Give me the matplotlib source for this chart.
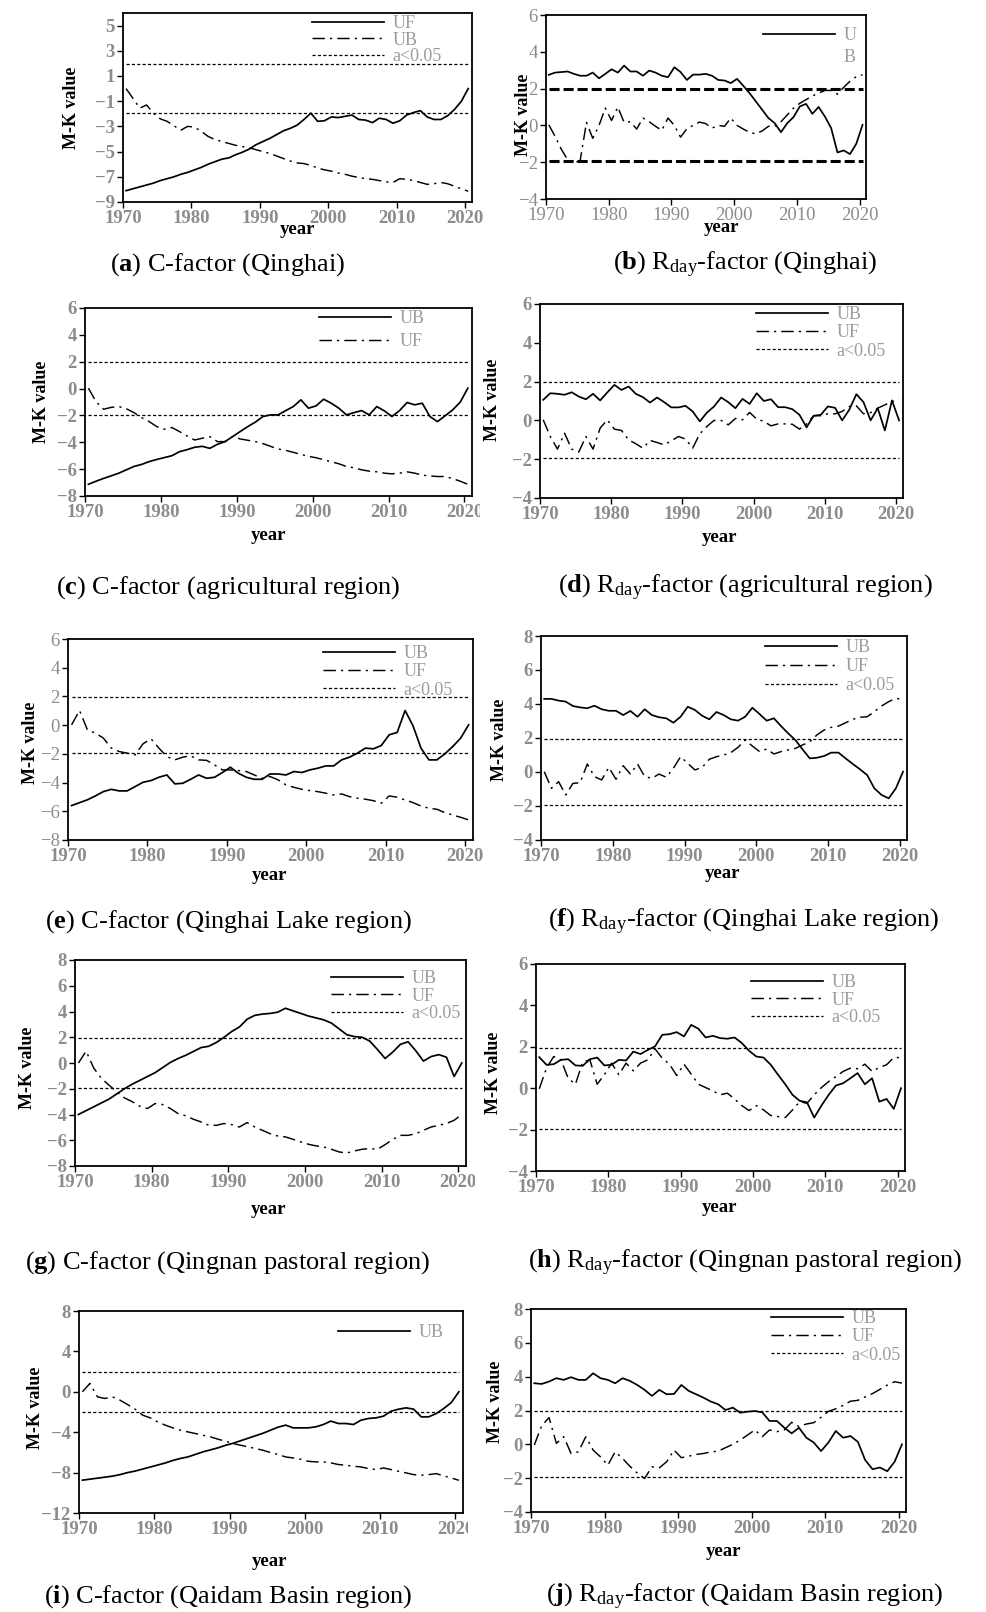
import numpy as np
import matplotlib
matplotlib.use('Agg')
import matplotlib.pyplot as plt
from matplotlib.lines import Line2D
from matplotlib.transforms import Bbox, TransformedBbox

plt.rcParams['font.family'] = 'Liberation Serif'
plt.rcParams['mathtext.fontset'] = 'custom'
plt.rcParams['mathtext.rm'] = 'Liberation Serif'
plt.rcParams['mathtext.bf'] = 'Liberation Serif:bold'
plt.rcParams['mathtext.it'] = 'Liberation Serif:italic'

W, H = 987, 1612
years = np.arange(1970, 2021)

# (a) C-factor, Qinghai
a_solid = [-8.1, -7.95, -7.8, -7.65, -7.5, -7.3, -7.15, -7.0, -6.8, -6.65,
           -6.45, -6.25, -6.0, -5.8, -5.6, -5.5, -5.25, -5.05, -4.8, -4.45,
           -4.2, -3.95, -3.65, -3.35, -3.15, -2.9, -2.45, -1.95, -2.6, -2.55,
           -2.25, -2.3, -2.2, -2.1, -2.45, -2.5, -2.7, -2.35, -2.45, -2.75,
           -2.55, -2.1, -1.9, -1.75, -2.25, -2.45, -2.45, -2.15, -1.65, -1.0, 0.0]
a_dashdot = [0.0, -0.77, -1.55, -1.3, -1.95, -2.4, -2.6, -2.95, -3.3, -3.0,
             -3.05, -3.4, -3.8, -4.05, -4.2, -4.35, -4.5, -4.6, -4.7, -4.85,
             -5.0, -5.15, -5.35, -5.55, -5.75, -5.9, -5.95, -6.1, -6.3, -6.45,
             -6.55, -6.7, -6.8, -6.95, -7.05, -7.15, -7.2, -7.3, -7.4, -7.45,
             -7.15, -7.2, -7.3, -7.45, -7.6, -7.55, -7.45, -7.55, -7.75, -7.95, -8.15]

# (b) Rday-factor, Qinghai
b_solid = [2.75, 2.87, 2.9, 2.93, 2.8, 2.7, 2.7, 2.87, 2.56, 2.8,
           3.05, 2.87, 3.25, 2.93, 2.93, 2.7, 2.98, 2.87, 2.7, 2.62,
           3.16, 2.9, 2.47, 2.76, 2.76, 2.8, 2.7, 2.47, 2.44, 2.3,
           2.53, 2.15, 1.75, 1.3, 0.85, 0.4, 0.12, -0.37, 0.12, 0.45,
           1.03, 1.17, 0.63, 1.0, 0.48, -0.15, -1.47, -1.36, -1.56, -1.0, 0.03]
b_dashdot = [0.03, -0.6, -1.3, -1.87, -2.05, -1.9, 0.16, -0.7, 0.0, 0.94,
             0.27, 1.0, 0.16, 0.2, -0.2, 0.4, 0.2, -0.05, -0.27, 0.4,
             0.0, -0.64, -0.18, 0.0, 0.18, 0.1, -0.15, 0.0, -0.05, 0.4,
             0.0, -0.2, -0.38, -0.46, -0.3, -0.05, -0.05, 0.2, 0.57, 0.94,
             1.2, 1.4, 1.6, 1.75, 1.9, 1.9, 1.7, 2.07, 2.4, 2.65, 2.75]

# (c) C-factor, agricultural region
c_solid = [-7.13, -6.9, -6.69, -6.5, -6.3, -6.05, -5.8, -5.65, -5.44, -5.28,
           -5.14, -5.0, -4.7, -4.55, -4.37, -4.3, -4.45, -4.15, -3.95, -3.58,
           -3.2, -2.83, -2.5, -2.08, -1.96, -1.96, -1.64, -1.34, -0.84, -1.46,
           -1.29, -0.79, -1.09, -1.46, -1.96, -1.79, -1.64, -1.96, -1.34, -1.66,
           -2.08, -1.64, -1.04, -1.21, -1.09, -2.08, -2.46, -2.03, -1.59, -1.01, 0.03]
c_dashdot = [0.03, -0.97, -1.54, -1.4, -1.34, -1.5, -1.79, -2.16, -2.46, -2.83,
             -3.03, -2.9, -3.2, -3.53, -3.83, -3.7, -3.58, -3.95, -3.95, -3.58,
             -3.75, -3.85, -3.95, -4.1, -4.3, -4.5, -4.6, -4.75, -4.9, -5.05,
             -5.15, -5.3, -5.45, -5.6, -5.8, -5.9, -6.05, -6.15, -6.2, -6.3,
             -6.35, -6.3, -6.2, -6.3, -6.45, -6.5, -6.55, -6.55, -6.7, -6.9, -7.13]

# (d) Rday-factor, agricultural region
d_solid = [1.06, 1.4, 1.37, 1.32, 1.45, 1.23, 1.09, 1.37, 1.03, 1.44,
           1.83, 1.57, 1.75, 1.37, 1.2, 0.92, 1.18, 0.94, 0.67, 0.67,
           0.75, 0.46, -0.05, 0.4, 0.72, 1.18, 0.94, 0.63, 1.11, 0.85,
           1.4, 1.0, 1.09, 0.68, 0.68, 0.58, 0.29, -0.36, 0.24, 0.29,
           0.72, 0.65, 0.0, 0.55, 1.35, 0.94, 0.0, 0.63, -0.52, 1.03, 0.0]
d_dashdot = [0.03, -0.83, -1.48, -0.66, -1.48, -1.63, -0.83, -1.48, -0.4, 0.03,
             -0.45, -0.52, -1.0, -1.2, -1.43, -1.03, -1.14, -1.26, -1.05, -0.83,
             -0.96, -1.43, -0.69, -0.31, 0.0, 0.0, -0.23, 0.1, 0.03, 0.41,
             0.07, -0.05, -0.28, -0.18, -0.18, -0.2, -0.45, -0.18, 0.24, 0.24,
             0.34, 0.34, 0.46, 0.72, 0.75, 0.34, 0.4, 0.63, 0.8, 0.97, 1.06]

# (e) C-factor, Qinghai Lake region
e_solid = [-5.6, -5.4, -5.2, -4.93, -4.63, -4.47, -4.58, -4.58, -4.28, -3.98,
           -3.86, -3.63, -3.47, -4.09, -4.05, -3.77, -3.47, -3.7, -3.63, -3.3,
           -2.93, -3.35, -3.63, -3.77, -3.77, -3.4, -3.4, -3.47, -3.23, -3.3,
           -3.12, -3.0, -2.84, -2.84, -2.42, -2.23, -1.95, -1.6, -1.65, -1.42,
           -0.67, -0.51, 1.02, -0.05, -1.6, -2.42, -2.42, -2.0, -1.49, -0.9, 0.02]
e_dashdot = [0.02, 1.02, -0.33, -0.56, -0.9, -1.6, -1.84, -1.95, -2.07, -1.3,
             -0.95, -1.6, -2.19, -2.42, -2.23, -2.14, -2.42, -2.45, -2.77, -3.12,
             -3.12, -3.16, -3.23, -3.47, -3.7, -3.58, -3.81, -4.16, -4.33, -4.47,
             -4.56, -4.63, -4.74, -4.86, -4.79, -4.98, -5.09, -5.16, -5.26, -5.44,
             -4.93, -5.02, -5.21, -5.4, -5.63, -5.79, -5.86, -6.09, -6.26, -6.42, -6.6]

# (f) Rday-factor, Qinghai Lake region
f_solid = [4.3, 4.3, 4.2, 4.14, 3.88, 3.8, 3.75, 3.9, 3.69, 3.6,
           3.6, 3.35, 3.59, 3.25, 3.69, 3.35, 3.22, 3.16, 2.9, 3.25,
           3.84, 3.65, 3.31, 3.1, 3.53, 3.35, 3.1, 3.02, 3.25, 3.78,
           3.41, 3.02, 3.16, 2.7, 2.27, 1.88, 1.33, 0.8, 0.84, 0.94,
           1.14, 1.14, 0.8, 0.47, 0.16, -0.18, -0.96, -1.35, -1.55, -0.96, 0.02]
f_dashdot = [0.02, -0.96, -0.57, -1.35, -0.67, -0.63, 0.47, -0.27, -0.47, 0.27,
             -0.43, 0.37, -0.12, 0.47, -0.27, -0.37, -0.12, -0.31, 0.22, 0.9,
             0.51, 0.12, 0.27, 0.75, 0.9, 1.0, 1.14, 1.45, 1.88, 1.53,
             1.2, 1.35, 1.06, 1.2, 1.3, 1.39, 1.59, 1.78, 2.18, 2.47,
             2.63, 2.7, 2.9, 3.1, 3.22, 3.25, 3.55, 3.88, 4.14, 4.33, 4.27]

# (g) C-factor, Qingnan pastoral region
g_solid = [-4.0, -3.7, -3.4, -3.1, -2.8, -2.4, -2.0, -1.65, -1.35, -1.05,
           -0.75, -0.35, 0.05, 0.35, 0.6, 0.9, 1.2, 1.3, 1.6, 2.0,
           2.45, 2.8, 3.4, 3.7, 3.8, 3.85, 3.95, 4.25, 4.05, 3.85,
           3.65, 3.5, 3.35, 3.1, 2.65, 2.2, 2.05, 2.0, 1.7, 1.05,
           0.35, 0.85, 1.45, 1.65, 0.95, 0.15, 0.5, 0.65, 0.45, -1.05, 0.0]
g_dashdot = [0.0, 0.92, -0.4, -1.2, -1.73, -2.24, -2.71, -3.0, -3.36, -3.54,
             -3.15, -3.23, -3.54, -3.93, -4.1, -4.37, -4.58, -4.84, -4.84, -4.7,
             -4.79, -4.97, -4.63, -4.97, -5.23, -5.49, -5.67, -5.74, -5.93, -6.13,
             -6.31, -6.44, -6.52, -6.7, -6.91, -6.99, -6.83, -6.7, -6.65, -6.7,
             -6.34, -5.93, -5.62, -5.62, -5.49, -5.23, -4.97, -4.84, -4.7, -4.45, -4.0]

# (h) Rday-factor, Qingnan pastoral region
h_solid = [1.5, 1.13, 1.16, 1.37, 1.4, 1.1, 1.08, 1.4, 1.48, 1.1,
           1.13, 1.37, 1.34, 1.77, 1.65, 1.85, 2.02, 2.58, 2.61, 2.71,
           2.5, 3.06, 2.87, 2.45, 2.53, 2.42, 2.39, 2.45, 2.18, 1.81,
           1.53, 1.48, 1.13, 0.65, 0.19, -0.32, -0.61, -0.68, -1.42, -0.84,
           -0.32, 0.13, 0.24, 0.48, 0.73, 0.19, 0.48, -0.65, -0.52, -1.0, 0.0]
h_dashdot = [-0.03, 0.97, 1.53, 1.37, 0.48, 0.19, 1.26, 1.37, 0.19, 0.65,
             1.21, 0.65, 1.21, 0.84, 1.21, 1.37, 1.9, 1.45, 1.16, 0.61,
             1.16, 0.68, 0.19, 0.03, -0.13, -0.32, -0.24, -0.52, -0.84, -1.08,
             -0.84, -1.05, -1.32, -1.37, -1.42, -1.05, -0.65, -0.73, -0.32, 0.03,
             0.32, 0.56, 0.81, 0.97, 0.94, 1.16, 0.81, 1.0, 1.13, 1.48, 1.48]

# (i) C-factor, Qaidam Basin region
i_solid = [-8.75, -8.65, -8.55, -8.45, -8.35, -8.2, -8.0, -7.85, -7.65, -7.45,
           -7.25, -7.05, -6.8, -6.6, -6.45, -6.2, -5.95, -5.75, -5.55, -5.3,
           -5.1, -4.85, -4.6, -4.35, -4.1, -3.8, -3.5, -3.3, -3.57, -3.57,
           -3.57, -3.47, -3.24, -2.9, -3.14, -3.14, -3.24, -2.81, -2.64, -2.58,
           -2.41, -1.92, -1.72, -1.59, -1.72, -2.48, -2.48, -2.15, -1.65, -1.06, 0.0]
i_dashdot = [0.0, 0.83, -0.5, -0.66, -0.5, -0.83, -1.26, -1.72, -2.31, -2.58,
             -2.98, -3.3, -3.57, -3.8, -3.97, -4.13, -4.3, -4.46, -4.69, -4.89,
             -5.12, -5.29, -5.45, -5.62, -5.79, -6.02, -6.21, -6.45, -6.55, -6.68,
             -6.88, -6.94, -6.94, -7.04, -7.2, -7.27, -7.37, -7.44, -7.6, -7.7,
             -7.54, -7.7, -7.87, -8.03, -8.2, -8.26, -8.2, -8.1, -8.33, -8.53, -8.76]

# (j) Rday-factor, Qaidam Basin region
j_solid = [3.61, 3.57, 3.71, 3.91, 3.81, 3.97, 3.81, 3.81, 4.2, 3.91,
           3.81, 3.61, 3.91, 3.75, 3.51, 3.22, 2.86, 3.22, 2.96, 2.98,
           3.51, 3.16, 2.96, 2.76, 2.53, 2.37, 2.03, 2.17, 1.87, 1.93,
           1.97, 1.89, 1.38, 1.38, 0.98, 0.65, 0.98, 0.39, 0.11, -0.4,
           0.11, 0.79, 0.39, 0.49, 0.15, -0.93, -1.47, -1.37, -1.59, -1.03, 0.0]
j_dashdot = [-0.04, 1.1, 1.58, 0.06, 0.45, -0.54, -0.44, 0.45, -0.34, -0.74,
             -1.23, -0.44, -0.83, -1.3, -1.7, -2.02, -1.33, -1.39, -1.03, -0.34,
             -0.79, -0.7, -0.6, -0.54, -0.45, -0.4, -0.2, 0.0, 0.25, 0.55,
             0.85, 0.45, 0.85, 0.75, 0.85, 1.3, 1.05, 1.2, 1.28, 1.6,
             1.95, 2.1, 2.3, 2.55, 2.6, 2.8, 3.0, 3.25, 3.5, 3.7, 3.62]

threshold = 1.96

GRAY = '#8c8c8c'
LEG_GRAY = '#9c9c9c'
DASHDOT = (0, (8.5, 3.5, 1.5, 3.5))
DASHED = (0, (2.5, 1.8))
THICK_DASHED = (0, (3.3, 1.3))
STYLES = {
    'solid': dict(lw=1.25, linestyle='-'),
    'dashdot': dict(lw=1.05, linestyle=DASHDOT),
    'dashed': dict(lw=0.9, linestyle=DASHED),
}
TICK_SIZE = 13.5
LEG_SIZE = 13


def fig_text(fig, x, y, s, **kw):
    return fig.text(x / W, 1 - y / H, s, **kw)


def mk_panel(fig, box, solid, dashdot, ylim, ystep, caption, cap_xy, year_xy, mk_xy,
             legend, leg_xy, leg_gap=0.07, bold_x=True, bold_y=True, clip_x=None,
             thick=False):
    l, t, r, b = box
    ax = fig.add_axes([l / W, 1 - b / H, (r - l) / W, (b - t) / H])
    x = years + 0.45
    ax.plot(x, solid, color='black', **STYLES['solid'])
    ax.plot(x, dashdot, color='black', **STYLES['dashdot'])
    if thick:
        ax.hlines([threshold, -threshold], x[0], x[-1], colors='black',
                  lw=2.2, linestyles=[THICK_DASHED])
    else:
        ax.hlines([threshold, -threshold], x[0], x[-1], colors='black',
                  lw=0.9, linestyles=[DASHED])

    ax.set_xlim(1970, 2021)
    ax.set_ylim(*ylim)
    ax.set_xticks(range(1970, 2021, 10))
    ax.set_yticks(list(range(ylim[0], ylim[1] + 1, ystep)))
    ax.tick_params(labelsize=TICK_SIZE, labelcolor=GRAY, direction='out',
                   length=4, width=1, pad=2)
    for sp in ax.spines.values():
        sp.set_linewidth(1.3)
    for lbl in ax.get_xticklabels():
        lbl.set_fontweight('bold' if bold_x else 'normal')
    for lbl in ax.get_yticklabels():
        lbl.set_fontweight('bold' if bold_y else 'normal')
    if clip_x is not None:
        clip = TransformedBbox(Bbox([[0, 0], [clip_x / W, 1]]), fig.transFigure)
        for lbl in ax.get_xticklabels():
            lbl.set_clip_box(clip)
            lbl.set_clip_on(True)

    handles = [Line2D([], [], color='black', **STYLES[s]) for s, _ in legend]
    labels = [lab for _, lab in legend]
    ax.legend(handles, labels, loc='upper left',
              bbox_to_anchor=(leg_xy[0] / W, 1 - (leg_xy[1] - 9) / H),
              bbox_transform=fig.transFigure, frameon=False, handlelength=4.0,
              handletextpad=0.45, labelspacing=leg_gap, borderpad=0,
              borderaxespad=0, fontsize=LEG_SIZE, labelcolor=LEG_GRAY)

    fig_text(fig, mk_xy[0], mk_xy[1], 'M-K value', rotation=90, ha='center',
             va='center', fontsize=13, fontweight='bold')
    fig_text(fig, year_xy[0], year_xy[1], 'year', ha='center', va='center',
             fontsize=13.5, fontweight='bold')
    fig_text(fig, cap_xy[0], cap_xy[1], caption, ha='center', va='center',
             fontsize=19)
    return ax


fig = plt.figure(figsize=(W / 100, H / 100), dpi=100)

leg3 = [('solid', 'UB'), ('dashdot', 'UF'), ('dashed', 'a<0.05')]
rday = r'$\mathrm{R_{day}}$'

mk_panel(fig, (123, 13, 472, 202), a_solid, a_dashdot, (-9, 6), 2,
         r'($\mathbf{a}$) C-factor (Qinghai)', (228, 265), (297, 230), (72, 108),
         [('solid', 'UF'), ('dashdot', 'UB'), ('dashed', 'a<0.05')], (312, 24), -0.02)
mk_panel(fig, (546, 15, 866, 199), b_solid, b_dashdot, (-4, 6), 2,
         r'($\mathbf{b}$) ' + rday + '-factor (Qinghai)', (745, 265), (722, 227),
         (524, 115), [('solid', 'U')], (763, 36), bold_x=False, bold_y=False,
         thick=True)
fig_text(fig, 844, 57, 'B', ha='left', va='center', fontsize=LEG_SIZE, color=LEG_GRAY)
mk_panel(fig, (85, 308, 472, 496), c_solid, c_dashdot, (-8, 6), 2,
         r'($\mathbf{c}$) C-factor (agricultural region)', (228, 588), (269, 536),
         (42, 402), [('solid', 'UB'), ('dashdot', 'UF')], (319, 319), 0.34,
         clip_x=480)
mk_panel(fig, (540, 304, 903, 498), d_solid, d_dashdot, (-4, 6), 2,
         r'($\mathbf{d}$) ' + rday + '-factor (agricultural region)', (745, 588),
         (720, 537), (493, 400), leg3, (756, 315), 0.07)
mk_panel(fig, (68, 639, 473, 840), e_solid, e_dashdot, (-8, 6), 2,
         r'($\mathbf{e}$) C-factor (Qinghai Lake region)', (228, 922), (270, 875),
         (31, 743), leg3, (323, 654), 0.07, bold_y=False)
mk_panel(fig, (541, 636, 907, 840), f_solid, f_dashdot, (-4, 8), 2,
         r'($\mathbf{f}$) ' + rday + '-factor (Qinghai Lake region)', (744, 922),
         (723, 873), (500, 740), leg3, (765, 648), 0.12)
mk_panel(fig, (75, 960, 466, 1166), g_solid, g_dashdot, (-8, 8), 2,
         r'($\mathbf{g}$) C-factor (Qingnan pastoral region)', (228, 1263),
         (269, 1210), (28, 1068), leg3, (331, 979), 0.04, clip_x=475)
mk_panel(fig, (536, 964, 905, 1171), h_solid, h_dashdot, (-4, 6), 2,
         r'($\mathbf{h}$) ' + rday + '-factor (Qingnan pastoral region)', (745, 1263),
         (719, 1207), (494, 1073), leg3, (751, 983), 0.04)
mk_panel(fig, (79, 1311, 463, 1513), i_solid, i_dashdot, (-12, 8), 4,
         r'($\mathbf{i}$) C-factor (Qaidam Basin region)', (228, 1597), (270, 1562),
         (36, 1408), [('solid', 'UB')], (338, 1333), clip_x=468)
mk_panel(fig, (531, 1309, 906, 1512), j_solid, j_dashdot, (-4, 8), 2,
         r'($\mathbf{j}$) ' + rday + '-factor (Qaidam Basin region)', (745, 1597),
         (724, 1552), (496, 1402), leg3, (771, 1319), 0.07)

fig.savefig('out.png', dpi=100)
